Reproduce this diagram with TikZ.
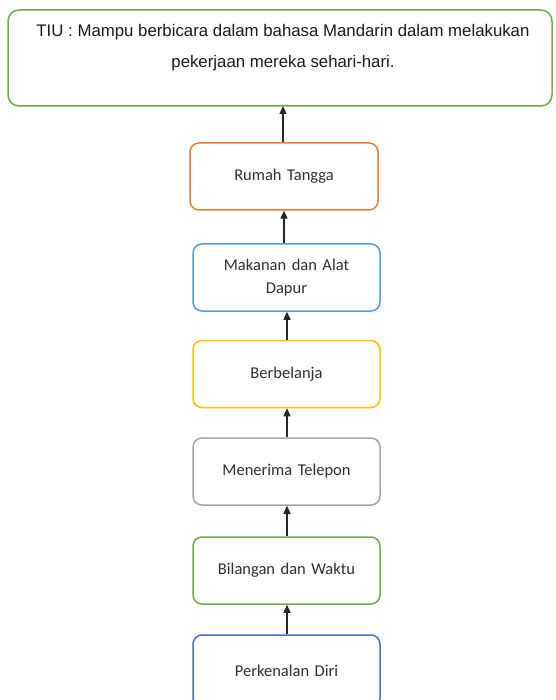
\documentclass[tikz,border=0pt]{standalone}
\usepackage{fontspec}
\setmainfont{Liberation Sans}
\newfontfamily\boxfont{Carlito}
\usetikzlibrary{arrows.meta}
\definecolor{cOrange}{HTML}{ED7D31}
\definecolor{cLBlue}{HTML}{5B9BD5}
\definecolor{cGold}{HTML}{FFC000}
\definecolor{cGray}{HTML}{A5A5A5}
\definecolor{cGreen}{HTML}{70AD47}
\definecolor{cDBlue}{HTML}{4472C4}
\begin{document}
\begin{tikzpicture}[x=1pt,y=-1pt,
  topicbox/.style={draw,line width=1.5pt,rounded corners=9pt,minimum width=187pt,minimum height=67pt,
     align=center,text width=160pt,font=\boxfont\fontsize{16.5}{23}\selectfont,text=black!82,fill=white},
  conn/.style={-{Triangle[length=8pt,width=7pt]},line width=1.4pt,black!85}]
\useasboundingbox (0,0) rectangle (555,700);
\draw[cGreen,line width=1.5pt,rounded corners=11pt] (8,10) rectangle (552,106);
\node[font=\fontsize{16.8}{31}\selectfont,align=center,text=black!90] (tiu) at (283,48)
  {TIU : Mampu berbicara dalam bahasa Mandarin dalam melakukan\\pekerjaan mereka sehari-hari.};
\coordinate (tiub) at (283,106);
\node[topicbox,draw=cOrange,minimum width=188pt] (rt) at (284,176.5) {Rumah Tangga};
\node[topicbox,draw=cLBlue] (mk) at (286.5,277.5) {Makanan dan Alat\\Dapur};
\node[topicbox,draw=cGold] (bb) at (286.5,374) {Berbelanja};
\node[topicbox,draw=cGray] (mt) at (286.5,471.5) {Menerima Telepon};
\node[topicbox,draw=cGreen] (bw) at (286.5,570.5) {Bilangan dan Waktu};
\node[topicbox,draw=cDBlue,minimum height=72pt] (pd) at (286.5,671) {Perkenalan Diri};
\draw[conn] (tiub |- rt.north) -- (tiub);
\draw[conn] (rt.south |- mk.north) -- (rt.south);
\draw[conn] ([xshift=0.5pt]bb.north) -- ([xshift=0.5pt]mk.south);
\draw[conn] ([xshift=0.5pt]mt.north) -- ([xshift=0.5pt]bb.south);
\draw[conn] ([xshift=0.5pt]bw.north) -- ([xshift=0.5pt]mt.south);
\draw[conn] ([xshift=0.5pt]pd.north) -- ([xshift=0.5pt]bw.south);
\end{tikzpicture}
\end{document}
